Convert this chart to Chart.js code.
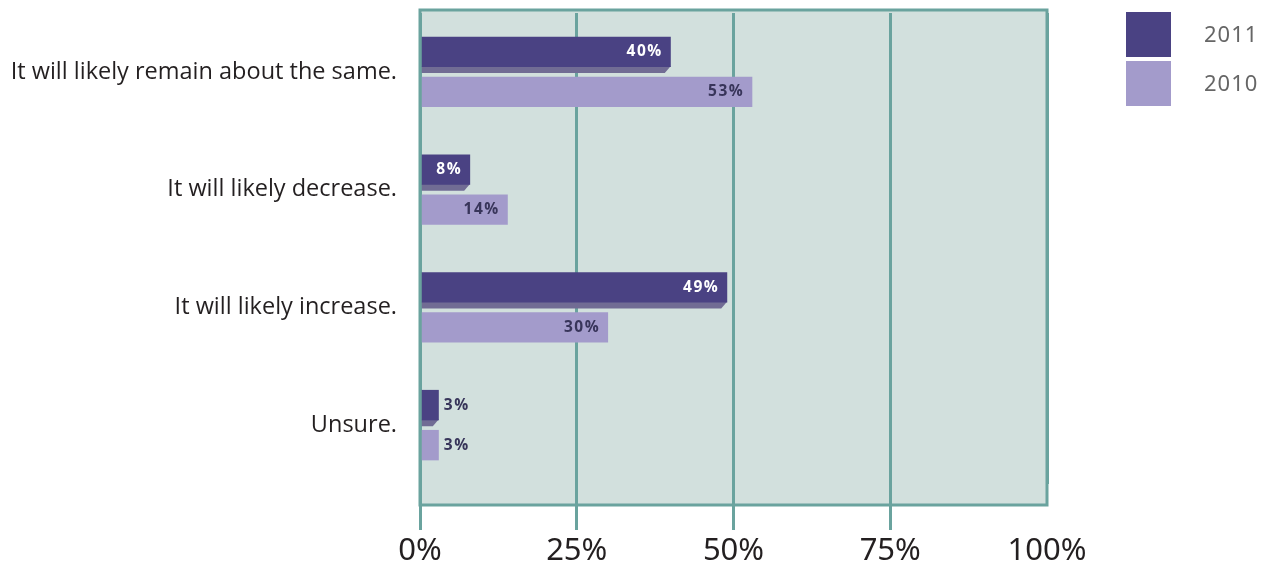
<!DOCTYPE html>
<html>
<head>
<meta charset="utf-8">
<script src="https://cdn.jsdelivr.net/npm/chart.js@4.4.1/dist/chart.umd.min.js"></script>
<style>
  html, body { margin: 0; padding: 0; background: #fff; }
  #wrap { position: relative; width: 1268px; height: 569px; }
</style>
</head>
<body>
<div id="wrap"><canvas id="chart" width="1268" height="569"></canvas></div>
<script>
const categories = [
    'It will likely remain about the same.',
    'It will likely decrease.',
    'It will likely increase.',
    'Unsure.'
];
const seriesNames = ['2011', '2010'];
const values2011 = [40, 8, 49, 3];
const values2010 = [53, 14, 30, 3];
const xTicks = [0, 25, 50, 75, 100];

const TEAL = '#6aa39e';
const BG = '#d2e0dd';
const DARK = '#4a4283';
const LIGHT = '#a39bcb';

// plot frame is a bit bigger than the category bands
const FRAME_TOP = 10;
const FRAME_BOTTOM = 505;

const framePlugin = {
    id: 'frame',
    beforeDraw(chart) {
        const { ctx, chartArea } = chart;
        ctx.save();
        ctx.fillStyle = BG;
        ctx.fillRect(chartArea.left, FRAME_TOP, chartArea.right - chartArea.left, FRAME_BOTTOM - FRAME_TOP);
        ctx.restore();
    },
    afterDraw(chart) {
        const { ctx, chartArea } = chart;
        ctx.save();
        ctx.strokeStyle = TEAL;
        ctx.lineWidth = 3;
        ctx.strokeRect(chartArea.left, FRAME_TOP, chartArea.right - chartArea.left, FRAME_BOTTOM - FRAME_TOP);
        ctx.restore();

        // legend
        ctx.save();
        const items = [DARK, LIGHT];
        items.forEach((c, i) => {
            const y = 12 + i * 49;
            ctx.fillStyle = c;
            ctx.fillRect(1126, y, 45, 45);
            ctx.fillStyle = '#666666';
            ctx.font = '22px "Noto Sans"';
            ctx.letterSpacing = '1px';
            ctx.textBaseline = 'middle';
            ctx.textAlign = 'left';
            ctx.fillText(seriesNames[i], 1204, y + 24);
        });
        ctx.restore();
    }
};

// bevel under the 2011 bars + value labels
const barDecorPlugin = {
    id: 'barDecor',
    beforeDatasetsDraw(chart) {
        const { ctx } = chart;
        const meta = chart.getDatasetMeta(0);
        ctx.save();
        ctx.fillStyle = '#716c94';
        meta.data.forEach(bar => {
            const bottom = bar.y + bar.height / 2;
            const left = bar.base;
            const right = bar.x;
            const d = 6;
            ctx.beginPath();
            ctx.moveTo(left, bottom - 1);
            ctx.lineTo(right, bottom - 1);
            ctx.lineTo(Math.max(left, right - d), bottom + d);
            ctx.lineTo(left, bottom + d);
            ctx.closePath();
            ctx.fill();
        });
        ctx.restore();
    },
    afterDatasetsDraw(chart) {
        const { ctx } = chart;
        ctx.save();
        ctx.font = 'bold 15.5px "Open Sans"';
        ctx.letterSpacing = '1.5px';
        ctx.textBaseline = 'middle';
        chart.data.datasets.forEach((ds, di) => {
            const meta = chart.getDatasetMeta(di);
            meta.data.forEach((bar, i) => {
                const label = ds.data[i] + '%';
                const w = bar.x - bar.base;
                if (w > 40) {
                    ctx.textAlign = 'right';
                    ctx.fillStyle = di === 0 ? '#ffffff' : '#38355a';
                    ctx.fillText(label, bar.x - 8, bar.y);
                } else {
                    ctx.textAlign = 'left';
                    ctx.fillStyle = '#38355a';
                    ctx.fillText(label, bar.x + 5, bar.y);
                }
            });
        });
        ctx.restore();
    }
};

const chart = new Chart(document.getElementById('chart'), {
    type: 'bar',
    data: {
        labels: categories,
        datasets: [
            { label: seriesNames[0], data: values2011, backgroundColor: DARK },
            { label: seriesNames[1], data: values2010, backgroundColor: LIGHT }
        ]
    },
    options: {
        indexAxis: 'y',
        responsive: false,
        animation: false,
        layout: { padding: { top: 13, right: 221, left: 0, bottom: 0 } },
        categoryPercentage: 0.68,
        barPercentage: 0.76,
        plugins: {
            legend: { display: false },
            tooltip: { enabled: false }
        },
        scales: {
            x: {
                min: 0,
                max: 100,
                afterBuildTicks: s => { s.ticks = xTicks.map(v => ({ value: v })); },
                afterFit: s => { s.height = 85; s.paddingLeft = 0; s.paddingRight = 0; },
                border: { display: false },
                grid: {
                    color: TEAL,
                    lineWidth: 3,
                    tickLength: 46,
                    tickColor: ctx => ctx.tick && ctx.tick.value === 100 ? 'rgba(0,0,0,0)' : TEAL
                },
                ticks: {
                    padding: 3,
                    color: '#231f20',
                    font: { family: '"Noto Sans"', size: 31 },
                    callback: v => v + '%'
                }
            },
            y: {
                afterFit: s => { s.width = 420; s.paddingTop = 0; s.paddingBottom = 0; },
                border: { display: false },
                grid: { display: false },
                ticks: {
                    padding: 15,
                    color: '#231f20',
                    font: { family: '"Open Sans"', size: 23.5 }
                }
            }
        }
    },
    plugins: [framePlugin, barDecorPlugin]
});
</script>
</body>
</html>
